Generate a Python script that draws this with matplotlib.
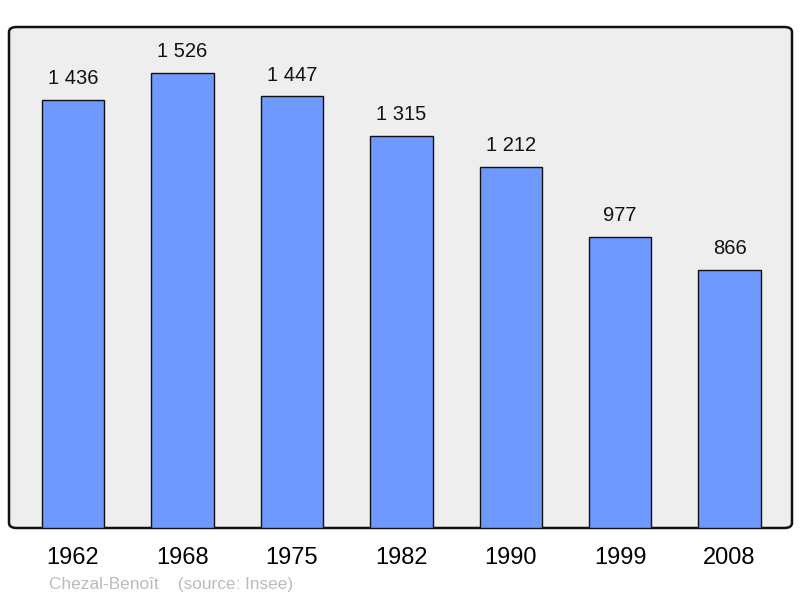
import matplotlib.pyplot as plt
from matplotlib.patches import FancyBboxPatch

years = ['1962', '1968', '1975', '1982', '1990', '1999', '2008']
population = [1436, 1526, 1447, 1315, 1212, 977, 866]
labels = ['1 436', '1 526', '1 447', '1 315', '1 212', '977', '866']

plt.rcParams['font.family'] = ['Liberation Sans', 'DejaVu Sans']

fig = plt.figure(figsize=(8, 5.98), dpi=100)
ax = fig.add_axes([9 / 800, 70 / 598, 783 / 800, 501 / 598])
ax.set_facecolor('none')

# cadre gris arrondi
frame = FancyBboxPatch((0, 0), 1, 1,
                       boxstyle='round,pad=0,rounding_size=0.01',
                       transform=ax.transAxes, facecolor='#eeeeee',
                       edgecolor='#111111', linewidth=1.8, zorder=0,
                       clip_on=False)
ax.add_patch(frame)

x = list(range(len(years)))
ax.bar(x, population, width=0.57, color='#7099ff', edgecolor='#111111',
       linewidth=1.0, zorder=2)

for xi, v, lab in zip(x, population, labels):
    ax.annotate(lab, (xi, v), xytext=(0, 8.5), textcoords='offset points',
                ha='center', va='bottom', fontsize=14.5, color='#111111')

ax.set_xlim(-0.585, 6.57)
ax.set_ylim(0, 1680)
for s in ax.spines.values():
    s.set_visible(False)
ax.set_yticks([])
ax.set_xticks(x)
ax.set_xticklabels(years, fontsize=17)
ax.tick_params(axis='x', length=0, pad=14)

fig.text(49 / 800, 1 - 584 / 598, 'Chezal-Benoît    (source: Insee)',
         fontsize=12.4, color='#bbbbbb', va='center', ha='left')

fig.savefig('out.png', dpi=100)
